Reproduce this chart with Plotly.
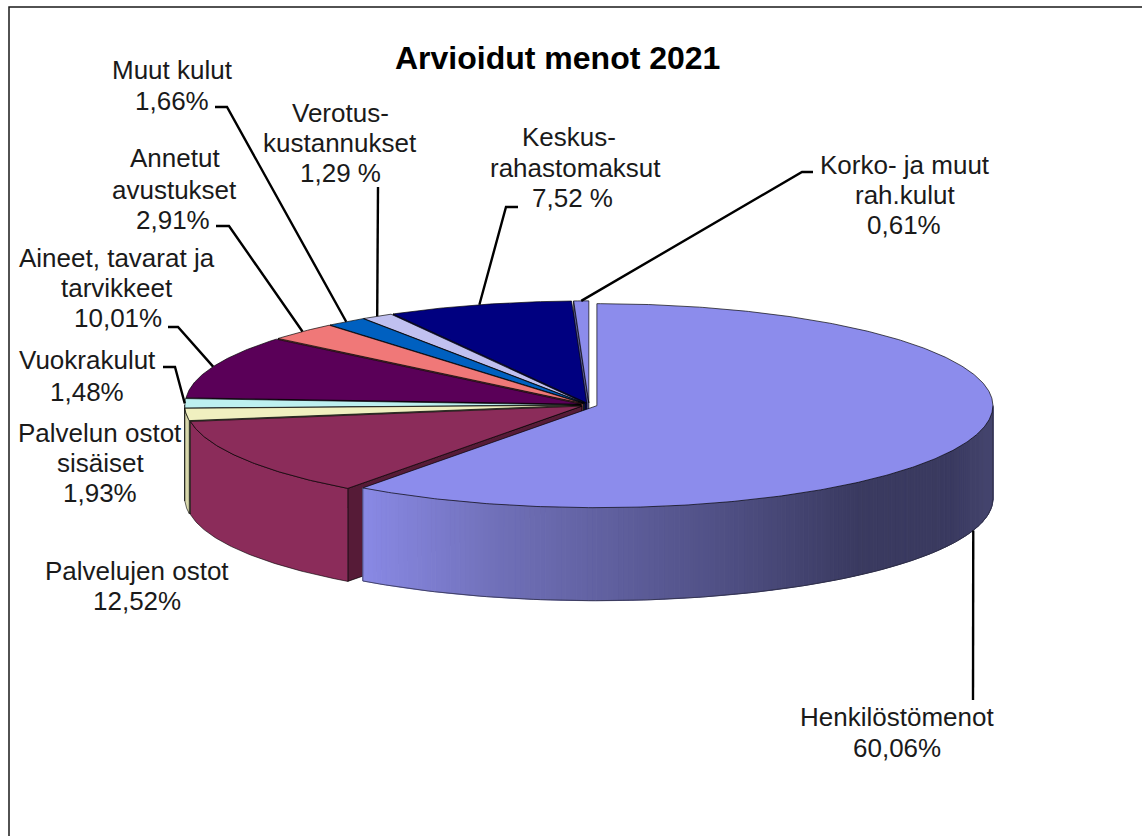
import math
import plotly.graph_objects as go

# ---- data ----
names = ["Henkilöstömenot", "Palvelujen ostot", "Palvelun ostot sisäiset", "Vuokrakulut",
         "Aineet, tavarat ja tarvikkeet", "Annetut avustukset", "Muut kulut",
         "Verotuskustannukset", "Keskusrahastomaksut", "Korko- ja muut rah.kulut"]
values = [60.06, 12.52, 1.93, 1.48, 10.01, 2.91, 1.66, 1.29, 7.52, 0.61]
top_colors = ["#8c8cec", "#8b2c5a", "#f0f0c0", "#bdf0f0", "#5a0058",
              "#f07878", "#0060c0", "#c0c0f0", "#000080", "#8c8cec"]
title_text = "Arvioidut menot 2021"

# label lines: (text, centre x, centre y)
label_lines = [
    ("Muut kulut", 172, 70), ("1,66%", 172, 101),
    ("Verotus-", 340, 113), ("kustannukset", 340, 143), ("1,29 %", 340, 173),
    ("Annetut", 175, 158), ("avustukset", 174, 190), ("2,91%", 173, 220),
    ("Aineet, tavarat ja", 117, 258), ("tarvikkeet", 117, 288), ("10,01%", 118, 318),
    ("Vuokrakulut", 87, 360), ("1,48%", 87, 392),
    ("Palvelun ostot", 100, 433), ("sisäiset", 100, 463), ("1,93%", 100, 493),
    ("Palvelujen ostot", 137, 571), ("12,52%", 137, 601),
    ("Keskus-", 569, 137), ("rahastomaksut", 575, 168), ("7,52 %", 572, 198),
    ("Korko- ja muut", 905, 165), ("rah.kulut", 905, 195), ("0,61%", 904, 225),
    ("Henkilöstömenot", 897, 717), ("60,06%", 897, 748),
]
# leader elbows by slice index; the tip is computed from the slice's mid angle
leader_elbows = {
    0: [(973, 700)],
    3: [(163, 367), (175, 367)],
    4: [(168, 327), (178, 327)],
    5: [(216, 226), (229, 226)],
    6: [(215, 107), (227, 107)],
    7: [(378, 187)],
    8: [(518, 207), (506, 207)],
    9: [(813, 172), (802, 172)],
}

# ---- projection ----
CX, CY, RX, RY, DEPTH, EXPLODE = 589, 405, 396, 102, 93, 8.3
side_stops = [(362, (138, 138, 230)), (500, (112, 112, 184)), (620, (95, 95, 157)),
              (750, (76, 76, 126)), (860, (58, 58, 96)), (950, (58, 58, 96)),
              (993, (70, 70, 111))]


def shade(hex_color, f):
    r, g, b = (int(hex_color[i:i + 2], 16) for i in (1, 3, 5))
    return f"rgb({int(r * f)},{int(g * f)},{int(b * f)})"


def side_color(x):
    for (x0, c0), (x1, c1) in zip(side_stops, side_stops[1:]):
        if x <= x1:
            t = max(0, (x - x0) / (x1 - x0))
            return "rgb(%d,%d,%d)" % tuple(a + (b - a) * t for a, b in zip(c0, c1))
    return "rgb(70,70,111)"


def polar(c, deg, dz=0):
    a = math.radians(deg)
    return c[0] + RX * math.sin(a), c[1] - RY * math.cos(a) + dz


def arc(c, a0, a1, dz=0, step=1.0):
    n = max(2, int(abs(a1 - a0) / step) + 1)
    return [polar(c, a0 + (a1 - a0) * i / (n - 1), dz) for i in range(n)]


fig = go.Figure()


def poly(pts, fill, line="rgba(0,0,0,0.85)", width=0.8):
    fig.add_trace(go.Scatter(
        x=[p[0] for p in pts] + [pts[0][0]], y=[p[1] for p in pts] + [pts[0][1]],
        mode="lines", fill="toself", fillcolor=fill,
        line=dict(color=line, width=width), hoverinfo="skip", showlegend=False))


def path(pts, color="#000000", width=2.4):
    fig.add_trace(go.Scatter(
        x=[p[0] for p in pts], y=[p[1] for p in pts], mode="lines",
        line=dict(color=color, width=width), hoverinfo="skip", showlegend=False))


total = sum(values)
edges = [0]
for v in values:
    edges.append(edges[-1] + v / total * 360)
centers, mids = [], []
for i in range(len(values)):
    m = (edges[i] + edges[i + 1]) / 2
    mids.append(m)
    a = math.radians(m)
    centers.append((CX + EXPLODE * math.sin(a), CY - EXPLODE * RY / RX * math.cos(a)))

# painter's order: back slices first, the large front slice last
for i in range(len(values) - 1, -1, -1):
    a0, a1, c, col = edges[i], edges[i + 1], centers[i], top_colors[i]
    dark = shade(col, 0.62)
    # cut faces
    for ang, normal in ((a0, a0 - 90), (a1, a1 + 90)):
        if math.cos(math.radians(normal)) < 0:
            rim = polar(c, ang)
            poly([c, rim, (rim[0], rim[1] + DEPTH), (c[0], c[1] + DEPTH)], dark)
    # outer wall
    s0, s1 = max(a0, 90), min(a1, 270)
    if s1 > s0:
        if i == 0:
            ang = s0
            while ang < s1:
                nxt = min(ang + 0.75, s1)
                seg = arc(c, ang, nxt, step=0.4)
                colr = side_color((seg[0][0] + seg[-1][0]) / 2)
                poly(seg + [(x, y + DEPTH) for x, y in reversed(seg)], colr, line=colr, width=1)
                ang = nxt
            path(arc(c, s0, s1, DEPTH), "rgba(40,40,60,0.9)", 0.8)
            path([polar(c, s1), polar(c, s1, DEPTH)], "rgba(40,40,60,0.9)", 0.8)
            path([polar(c, s0), polar(c, s0, DEPTH)], "rgba(40,40,60,0.9)", 0.8)
        else:
            seg = arc(c, s0, s1, step=0.5)
            wall = col if i == 1 else shade(col, 0.9)
            poly(seg + [(x, y + DEPTH) for x, y in reversed(seg)], wall, width=0.7)
    # top face
    poly([c] + arc(c, a0, a1, step=0.5), col)

# leader lines
for i, elbow in leader_elbows.items():
    dz = DEPTH if math.cos(math.radians(mids[i])) < 0 else 0
    path(elbow + [polar(centers[i], mids[i], dz)])

# frame
path([(9, 836), (9, 7), (1142, 7)], "#1a1a1a", 1.5)

annotations = [dict(x=x, y=y, text=t, xref="x", yref="y", xanchor="center", yanchor="middle",
                    showarrow=False, font=dict(family="Liberation Sans", size=26, color="#1a1a1a"))
               for t, x, y in label_lines]
annotations.append(dict(x=557, y=58, text=f"<b>{title_text}</b>", xref="x", yref="y",
                        xanchor="center", yanchor="middle", showarrow=False,
                        font=dict(family="Liberation Sans", size=32, color="#000000")))

fig.update_layout(
    width=1142, height=836, margin=dict(l=0, r=0, t=0, b=0),
    paper_bgcolor="white", plot_bgcolor="white", showlegend=False,
    xaxis=dict(range=[0, 1142], visible=False, fixedrange=True),
    yaxis=dict(range=[836, 0], visible=False, fixedrange=True),
    annotations=annotations,
)
fig.write_html("out.html", post_script="document.body.style.margin='0';document.body.style.overflow='hidden';",
               config={"displayModeBar": False})
